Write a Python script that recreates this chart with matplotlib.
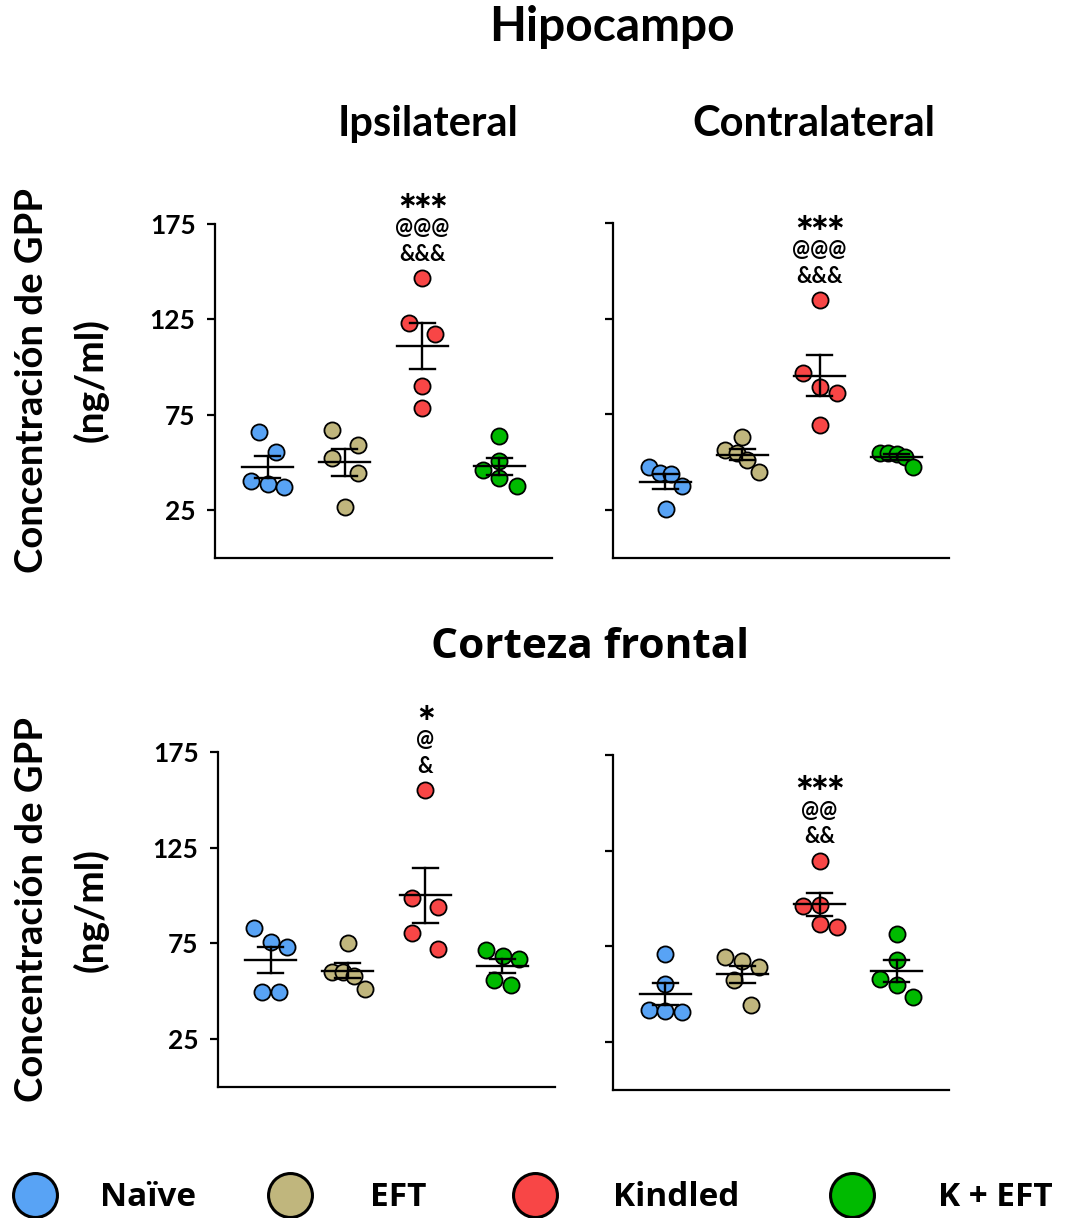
import numpy as np
import matplotlib
matplotlib.use("Agg")
import matplotlib.pyplot as plt

# ---------------- data (ng/ml) ----------------
groups = ["Naïve", "EFT", "Kindled", "K + EFT"]
colors = ["#58A3F5", "#C0B67D", "#F84646", "#00BA00"]

hip_ipsi = [
    [66.0, 55.6, 40.6, 38.6, 37.2],
    [66.9, 59.4, 52.5, 44.7, 26.7],
    [146.6, 122.9, 117.6, 90.3, 78.5],
    [63.7, 50.7, 46.0, 41.7, 37.7],
]
hip_contra = [
    [47.6, 44.2, 43.8, 37.7, 25.5],
    [63.3, 56.3, 54.6, 51.1, 45.0],
    [134.7, 96.4, 89.4, 86.3, 69.4],
    [55.1, 55.1, 54.2, 52.8, 47.3],
]
cf_ipsi = [
    [82.8, 75.6, 73.2, 49.8, 49.8],
    [75.0, 60.0, 60.0, 57.9, 51.0],
    [155.1, 98.7, 94.0, 80.2, 72.3],
    [71.5, 68.3, 67.0, 55.9, 53.1],
]
cf_contra = [
    [71.1, 55.6, 42.0, 41.2, 40.6],
    [69.5, 67.2, 64.1, 57.3, 44.3],
    [119.7, 96.3, 96.8, 86.7, 85.2],
    [81.5, 67.8, 58.2, 54.7, 48.7],
]

# significance marks over the Kindled group
sig_hip_ipsi = ["***", "@@@", "&&&"]
sig_hip_contra = ["***", "@@@", "&&&"]
sig_cf_ipsi = ["*", "@", "&"]
sig_cf_contra = ["***", "@@", "&&"]

yticks = [25, 75, 125, 175]

# horizontal scatter of the points inside each group (category units)
jit_hip_ipsi = [
    [-0.108, 0.108, -0.22, 0.0, 0.216],
    [-0.164, 0.168, -0.164, 0.168, 0.0],
    [0.0, -0.172, 0.164, 0.0, 0.0],
    [0.0, 0.0, -0.215, 0.0, 0.224],
]
jit_hip_contra = [
    [-0.216, -0.073, 0.078, 0.22, 0.01],
    [0.0, -0.224, -0.073, 0.065, 0.22],
    [0.0, -0.215, 0.0, 0.224, 0.0],
    [-0.215, -0.108, 0.0, 0.108, 0.215],
]
jit_cf_ipsi = [
    [-0.215, 0.0, 0.215, -0.108, 0.108],
    [0.0, -0.207, -0.065, 0.078, 0.22],
    [0.0, -0.172, 0.168, -0.164, 0.168],
    [-0.207, 0.004, 0.22, -0.108, 0.108],
]
jit_cf_contra = [
    [0.0, 0.0, -0.215, 0.0, 0.215],
    [-0.224, 0.0, 0.22, -0.108, 0.108],
    [0.0, -0.215, 0.0, 0.0, 0.224],
    [0.0, 0.0, -0.215, 0.0, 0.207],
]

W, H = 1071, 1218
fig = plt.figure(figsize=(W / 100, H / 100), dpi=100)

TFONT = "Lato"


def px_axes(left, top, right, bottom):
    return fig.add_axes([left / W, 1 - bottom / H, (right - left) / W, (bottom - top) / H])


def star_text(s):
    # math asterisks sit centred on the line, like the ones in the figure
    return r"$\mathbf{" + r"\!".join([r"{\ast}"] * len(s)) + "}$"


def draw_panel(ax, data, jit, sig, show_labels):
    for i, vals in enumerate(data):
        vals = np.array(vals)
        x = i + np.array(jit[i])
        ax.scatter(x, vals, s=135, color=colors[i], edgecolor="black",
                   linewidth=1.3, zorder=2, clip_on=False)
        m = vals.mean()
        sem = vals.std(ddof=1) / np.sqrt(len(vals))
        ax.plot([i - 0.33, i + 0.33], [m, m], color="black", lw=1.7, zorder=3)
        ax.plot([i, i], [m - sem, m + sem], color="black", lw=1.7, zorder=3)
        ax.plot([i - 0.16, i + 0.16], [m + sem, m + sem], color="black", lw=1.7, zorder=3)
        ax.plot([i - 0.16, i + 0.16], [m - sem, m - sem], color="black", lw=1.7, zorder=3)
    top = max(data[2]) + 12.5
    for k, s in enumerate(sig[::-1]):
        y = top + 14 * k
        if s.startswith("*"):
            ax.text(2, y, star_text(s), ha="center", va="center", fontsize=17,
                    clip_on=False)
        else:
            ax.text(2, y, s, ha="center", va="center", fontsize=15.5,
                    fontweight="bold", family=TFONT, clip_on=False)
    ax.set_xlim(-0.68, 3.68)
    ax.set_ylim(0, 175)
    ax.set_yticks(yticks)
    ax.set_xticks([])
    for sp in ["top", "right"]:
        ax.spines[sp].set_visible(False)
    for sp in ["left", "bottom"]:
        ax.spines[sp].set_linewidth(1.6)
    ax.tick_params(axis="y", direction="out", length=6, width=1.6, pad=8)
    if show_labels:
        ax.set_yticklabels([str(t) for t in yticks], fontsize=19,
                           fontweight="bold", family=TFONT)
    else:
        ax.set_yticklabels([])


ax1 = px_axes(215, 224, 552, 558)
ax2 = px_axes(613, 223, 949, 558)
ax3 = px_axes(218, 752, 555, 1087)
ax4 = px_axes(613, 755, 949, 1090)

draw_panel(ax1, hip_ipsi, jit_hip_ipsi, sig_hip_ipsi, True)
draw_panel(ax2, hip_contra, jit_hip_contra, sig_hip_contra, False)
draw_panel(ax3, cf_ipsi, jit_cf_ipsi, sig_cf_ipsi, True)
draw_panel(ax4, cf_contra, jit_cf_contra, sig_cf_contra, False)

# headings
fig.text(612 / W, 1 - 27 / H, "Hipocampo", ha="center", va="center",
         fontsize=34.5, fontweight="bold", family=TFONT)
fig.text(428 / W, 1 - 124 / H, "Ipsilateral", ha="center", va="center",
         fontsize=30, fontweight="bold", family=TFONT)
fig.text(814 / W, 1 - 124 / H, "Contralateral", ha="center", va="center",
         fontsize=30, fontweight="bold", family=TFONT)
fig.text(590 / W, 1 - 647 / H, "Corteza frontal", ha="center", va="center",
         fontsize=30.5, fontweight="bold", family="Open Sans")

# y labels
for yc in (380, 910):
    fig.text(32 / W, 1 - yc / H, "Concentración de GPP", rotation=90,
             ha="center", va="center", fontsize=27.5, fontweight="bold", family=TFONT)
    fig.text(91 / W, 1 - yc / H, "(ng/ml)", rotation=90,
             ha="center", va="center", fontsize=28, fontweight="bold", family=TFONT)

# legend along the bottom
lax = fig.add_axes([0, 0, 1, 50 / H])
lax.set_xlim(0, W)
lax.set_ylim(0, 50)
lax.axis("off")
marker_x = [35, 290, 535, 852]
label_x = [100, 370, 613, 938]
for i, g in enumerate(groups):
    lax.scatter([marker_x[i]], [23], s=1000, color=colors[i], edgecolor="black",
                linewidth=2.2, clip_on=False)
    lax.text(label_x[i], 21, g, ha="left", va="center", fontsize=24,
             fontweight="bold", family="Open Sans")

fig.savefig("out.png", dpi=100)
